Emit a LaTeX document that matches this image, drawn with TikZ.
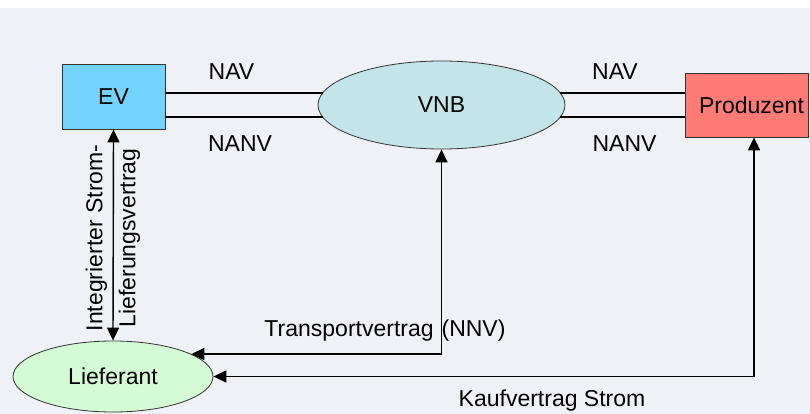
\documentclass[tikz,border=0pt]{standalone}
\usepackage{fontspec}
\setmainfont{Liberation Sans}
\usepackage{tikz}
\usetikzlibrary{shapes.geometric, arrows.meta}
\definecolor{hintergrund}{RGB}{238,242,247}
\definecolor{evblau}{RGB}{116,211,253}
\definecolor{vnbtuerkis}{RGB}{196,229,232}
\definecolor{prodrot}{RGB}{255,123,115}
\definecolor{liefgruen}{RGB}{212,252,212}
\tikzstyle{akteur} = [rectangle, text centered, draw=black!80, line width=0.8pt]
\tikzstyle{rolle} = [ellipse, text centered, draw=black!80, line width=0.8pt]
\tikzstyle{vertrag} = [line width=2pt]
\tikzstyle{arrow} = [line width=1.4pt, <->, >={Triangle[width=12pt,length=13pt]}]

\begin{document}
\begin{tikzpicture}[x=1pt, y=-1pt, font=\fontsize{23}{28}\selectfont]
        \useasboundingbox (0,0) rectangle (810,414);
        \fill[hintergrund] (0,8) rectangle (810,414);
        \node (ev) [akteur, fill=evblau, minimum width=103pt, minimum height=65pt] at (113.5,96.5) {EV};
        \node (vnb) [rolle, fill=vnbtuerkis, minimum width=247pt, minimum height=88pt] at (441.5,105) {VNB};
        \node (produzent) [akteur, fill=prodrot, minimum width=123pt, minimum height=64pt, inner xsep=0pt] at (746.5,105) {\hspace{10pt}Produzent};
        \node (lieferant) [rolle, fill=liefgruen, minimum width=200pt, minimum height=71pt] at (113,376.5) {Lieferant};

        \draw [vertrag] (vnb.174) -- (vnb.174 -| ev.east);
        \draw [vertrag] (vnb.186) -- (vnb.186 -| ev.east);
        \draw [vertrag] (vnb.6) -- (vnb.6 -| produzent.west);
        \draw [vertrag] (vnb.354) -- (vnb.354 -| produzent.west);
        \node (nav-links) [anchor=base] at (231.5,80) {NAV};
        \node (nanv-links) [anchor=base] at (240,152) {NANV};
        \node (nav-rechts) [anchor=base] at (615,80) {NAV};
        \node (nanv-rechts) [anchor=base] at (624.5,152) {NANV};

        \draw [arrow] (lieferant.north) -- (ev.south);
        \node (strom) [rotate=90, align=center, font=\fontsize{23}{33}\selectfont] at (113,238) {Integrierter Strom-\\Lieferungsvertrag};
        \draw [arrow] (lieferant.16) -| (vnb.south);
        \node (transport) [anchor=base] at (385,336) {Transportvertrag\hspace{8pt}(NNV)};
        \draw [arrow] (lieferant.east) -| ([xshift=7.5pt]produzent.south);
        \node (kauf) [anchor=base] at (552,406) {Kaufvertrag Strom};
    \end{tikzpicture}
\end{document}
